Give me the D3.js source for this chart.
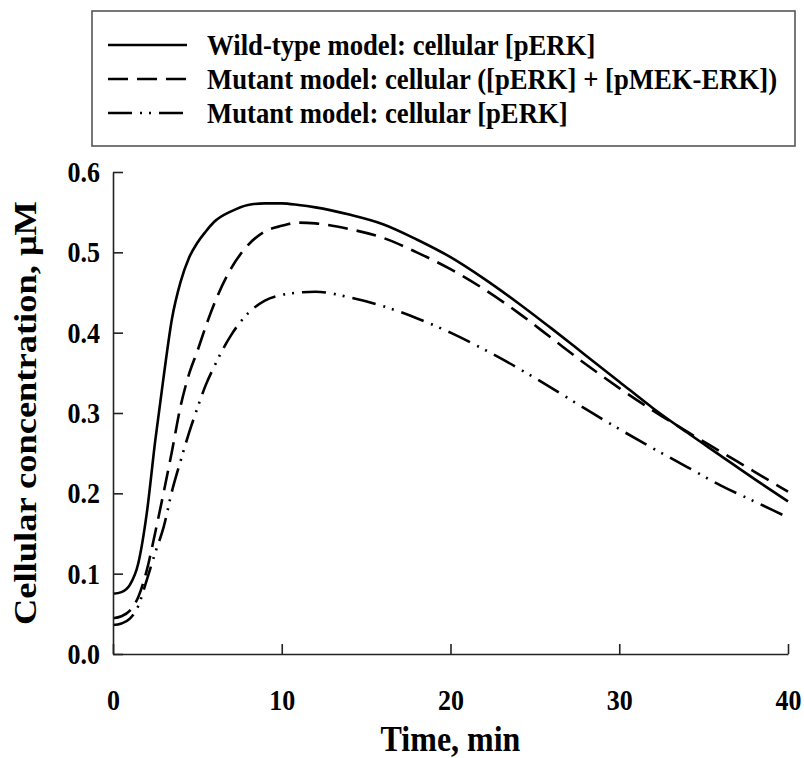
<!DOCTYPE html>
<html>
	<head>
		<title>cellular_perk</title>
		<script type="text/javascript" src="https://cdn.jsdelivr.net/npm/d3@7"></script>
		<style>
			body{margin:0;background:#fff;}
			text{font-family:'Liberation Serif','Times New Roman',serif;font-weight:bold;fill:#000;}
		</style>
	</head>
	<body>
		<script type="text/javascript">
			// time points (min)
			var times=[0,0.5,1,1.5,2,2.5,3,3.5,4,4.5,5,5.5,6,7,8,9,10,11,12,14,16,18,20,22,24,26,28,30,32,34,36,38,40];
			// wild-type cellular [pERK]
			var wildType=[0.075,0.077,0.086,0.113,0.175,0.265,0.345,0.418,0.463,0.493,0.512,0.526,0.538,0.551,0.559,0.561,0.561,0.559,0.556,0.547,0.535,0.516,0.494,0.467,0.437,0.405,0.372,0.339,0.306,0.276,0.247,0.218,0.190];
			// mutant cellular ([pERK]+[pMEK-ERK])
			var mutantTotal=[0.0445,0.047,0.054,0.071,0.104,0.151,0.201,0.253,0.308,0.348,0.377,0.408,0.436,0.480,0.509,0.526,0.533,0.537,0.536,0.529,0.518,0.500,0.479,0.454,0.425,0.393,0.361,0.331,0.303,0.277,0.252,0.227,0.202];
			// mutant cellular [pERK]
			var mutantFree=[0.036,0.038,0.044,0.060,0.092,0.126,0.158,0.203,0.240,0.275,0.306,0.335,0.358,0.397,0.424,0.440,0.447,0.450,0.451,0.444,0.433,0.418,0.400,0.379,0.356,0.331,0.305,0.280,0.256,0.233,0.210,0.190,0.170];

			var legendLabels=['Wild-type model: cellular [pERK]',
							  'Mutant model: cellular ([pERK] + [pMEK-ERK])',
							  'Mutant model: cellular [pERK]'];
			var dashes=['none','20,9','24,8,2,7,2,8'];
			var xTicks=[0,10,20,30,40];
			var yTicks=[0,0.1,0.2,0.3,0.4,0.5,0.6];

			var w=804;
			var h=758;
			var pLeft=113, pRight=788, pTop=172, pBottom=654;
			var stretch=1.14; // glyphs in the figure are taller than wide

			var svg=d3.select('body').append('svg')
					  .attr('width',w)
					  .attr('height',h);

			var xScale=d3.scaleLinear()
						 .domain([0,40])
						 .range([pLeft,pRight]);

			var yScale=d3.scaleLinear()
						 .domain([0,0.6])
						 .range([pBottom,pTop]);

			// move x/y into a transform so the text can be stretched vertically
			function stretchText(sel){
				sel.each(function(){
					var t=d3.select(this);
					var x=+t.attr('x')||0, y=+t.attr('y')||0;
					t.attr('x',0).attr('y',0)
					 .attr('transform','translate('+x+','+y+') scale(1,'+stretch+')');
				});
			}

			var series=[wildType,mutantTotal,mutantFree];

			var line=d3.line()
					   .x(function(d,i){
							return xScale(times[i]);
							})
					   .y(function(d){
							return yScale(d);
							})
					   .curve(d3.curveMonotoneX);

			svg.selectAll('path.curve')
			   .data(series)
			   .enter()
			   .append('path')
			   .attr('class','curve')
			   .attr('d',function(d){
							return line(d);
							})
			   .attr('fill','none')
			   .attr('stroke','#000')
			   .attr('stroke-width',2.6)
			   .attr('stroke-dasharray',function(d,i){
							return dashes[i];
							});

			// axes with inward ticks
			svg.append('g')
			   .attr('transform','translate(0,'+pBottom+')')
			   .call(d3.axisBottom(xScale)
					   .tickValues(xTicks)
					   .tickSizeInner(-10)
					   .tickSizeOuter(0)
					   .tickPadding(35)
					   .tickFormat(d3.format('d')));

			svg.append('g')
			   .attr('transform','translate('+pLeft+',0)')
			   .call(d3.axisLeft(yScale)
					   .tickValues(yTicks)
					   .tickSizeInner(-10)
					   .tickSizeOuter(0)
					   .tickPadding(13)
					   .tickFormat(d3.format('.1f')));

			svg.selectAll('.domain, .tick line')
			   .attr('stroke','#222')
			   .attr('stroke-width',1.6);

			svg.selectAll('.tick text')
			   .style('font-family',"'Liberation Serif',serif")
			   .style('font-weight','bold')
			   .style('font-size','26px')
			   .attr('fill','#000')
			   .call(stretchText);

			svg.append('text')
			   .text('Time, min')
			   .attr('x',(pLeft+pRight)/2)
			   .attr('y',751)
			   .attr('text-anchor','middle')
			   .attr('font-size','32px')
			   .call(stretchText);

			svg.append('text')
			   .text('Cellular concentration, \u03bcM')
			   .attr('transform','translate(36,'+((pTop+pBottom)/2)+') scale(1,'+stretch+') rotate(-90)')
			   .attr('text-anchor','middle')
			   .attr('font-size','32px');

			// legend
			var legend=svg.append('g');

			legend.append('rect')
				  .attr('x',92)
				  .attr('y',11)
				  .attr('width',703)
				  .attr('height',135)
				  .attr('fill','none')
				  .attr('stroke','#555')
				  .attr('stroke-width',1.6);

			legend.selectAll('line')
				  .data(legendLabels)
				  .enter()
				  .append('line')
				  .attr('x1',108)
				  .attr('x2',187)
				  .attr('y1',function(d,i){
								return 45+i*34;
								})
				  .attr('y2',function(d,i){
								return 45+i*34;
								})
				  .attr('stroke','#000')
				  .attr('stroke-width',2.6)
				  .attr('stroke-dasharray',function(d,i){
								return dashes[i];
								});

			legend.selectAll('text')
				  .data(legendLabels)
				  .enter()
				  .append('text')
				  .text(function(d){
								return d;
								})
				  .attr('x',207)
				  .attr('y',function(d,i){
								return 55+i*34;
								})
				  .attr('font-size','26.7px')
				  .call(stretchText);
		</script>
	</body>
</html>
